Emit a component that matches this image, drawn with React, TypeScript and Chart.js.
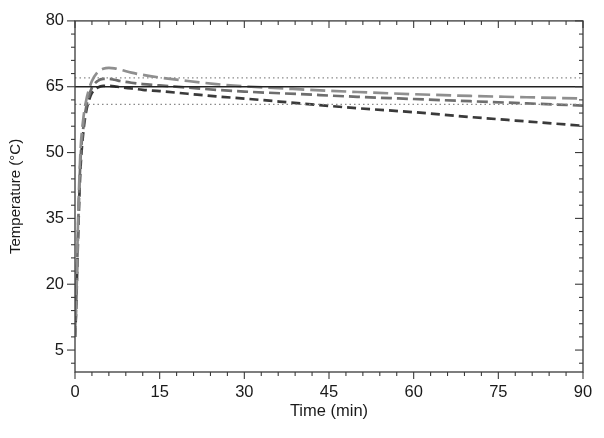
import React, { useEffect, useRef } from "react";
import { Chart, registerables } from "chart.js";

Chart.register(...registerables);

// ---- Data ----
const timeMin = [0, 0.2, 0.4, 0.6, 0.8, 1, 1.5, 2, 2.5, 3, 4, 5, 6, 7, 8, 10, 12, 15, 20, 25, 30, 40, 50, 60, 70, 80, 90];
const seriesLight = [8, 16, 27, 37, 45, 51, 58, 62, 64.5, 66.3, 68.3, 69.1, 69.3, 69.2, 68.9, 68.2, 67.7, 67.1, 66.3, 65.6, 65.1, 64.4, 63.8, 63.3, 62.9, 62.6, 62.3];
const seriesMedium = [8, 15, 25, 35, 43, 49, 56, 60.5, 63, 64.8, 66.3, 66.8, 66.8, 66.6, 66.3, 65.9, 65.6, 65.3, 64.8, 64.3, 63.9, 63.3, 62.7, 62.2, 61.7, 61.2, 60.7];
const seriesDark = [8, 14, 24, 33, 41, 47, 55, 59.5, 62, 63.6, 64.8, 65.2, 65.2, 65.1, 64.9, 64.6, 64.3, 64.0, 63.4, 62.8, 62.3, 61.2, 60.1, 59.2, 58.1, 57.1, 56.1];

const targetTemp = 65;
const upperLimit = 67;
const lowerLimit = 61;

const xRange = [0, 90];
const yRange = [0, 80];
const xTickLabels = [0, 15, 30, 45, 60, 75, 90];
const yTickLabels = [5, 20, 35, 50, 65, 80];
const minorStep = 3;

const toPoints = (ys: number[]) => ys.map((y, i) => ({ x: timeMin[i], y }));
const hLine = (v: number) => [
  { x: xRange[0], y: v },
  { x: xRange[1], y: v },
];

const framePlugin = {
  id: "framePlugin",
  afterDraw(chart: any) {
    const { ctx, chartArea: a, scales } = chart;
    const x = scales.x;
    const y = scales.y;
    ctx.save();
    ctx.strokeStyle = "#3a3a3a";
    ctx.lineWidth = 1.3;
    ctx.strokeRect(a.left, a.top, a.right - a.left, a.bottom - a.top);
    ctx.lineWidth = 1.1;
    const seg = (x1: number, y1: number, x2: number, y2: number) => {
      ctx.beginPath();
      ctx.moveTo(x1, y1);
      ctx.lineTo(x2, y2);
      ctx.stroke();
    };
    // x ticks
    for (let v = xRange[0]; v <= xRange[1] + 1e-9; v += minorStep) {
      const px = x.getPixelForValue(v);
      const major = xTickLabels.includes(v);
      const len = major ? 7 : 4;
      seg(px, a.bottom, px, a.bottom + len);
      seg(px, a.top, px, a.top + len);
    }
    // y ticks
    for (let v = yRange[1]; v >= yRange[0] - 1e-9; v -= minorStep) {
      const py = y.getPixelForValue(v);
      const major = yTickLabels.includes(v);
      const len = major ? 8 : 4;
      seg(a.left - len, py, a.left, py);
      seg(a.right - len, py, a.right, py);
    }
    ctx.restore();
  },
};

export default function App() {
  const canvasRef = useRef<HTMLCanvasElement | null>(null);

  useEffect(() => {
    if (!canvasRef.current) return;
    const fontFamily = "'Liberation Sans', Arial, sans-serif";
    const chart = new Chart(canvasRef.current, {
      type: "line",
      data: {
        datasets: [
          {
            label: "upper",
            data: hLine(upperLimit),
            borderColor: "#8a8a8a",
            borderWidth: 1.2,
            borderDash: [1.5, 3],
            pointRadius: 0,
          },
          {
            label: "lower",
            data: hLine(lowerLimit),
            borderColor: "#8a8a8a",
            borderWidth: 1.2,
            borderDash: [1.5, 3],
            pointRadius: 0,
          },
          {
            label: "target",
            data: hLine(targetTemp),
            borderColor: "#222222",
            borderWidth: 1.5,
            pointRadius: 0,
          },
          {
            label: "light",
            data: toPoints(seriesLight),
            borderColor: "#8f8f8f",
            borderWidth: 2.7,
            borderDash: [15, 6],
            pointRadius: 0,
            cubicInterpolationMode: "monotone",
          },
          {
            label: "medium",
            data: toPoints(seriesMedium),
            borderColor: "#6e6e6e",
            borderWidth: 2.7,
            borderDash: [11, 5],
            pointRadius: 0,
            cubicInterpolationMode: "monotone",
          },
          {
            label: "dark",
            data: toPoints(seriesDark),
            borderColor: "#3a3a3a",
            borderWidth: 2.7,
            borderDash: [9, 5],
            pointRadius: 0,
            cubicInterpolationMode: "monotone",
          },
        ],
      },
      options: {
        animation: false,
        responsive: false,
        devicePixelRatio: 1,
        layout: { padding: { top: 15, right: 21, left: 0, bottom: 0 } },
        plugins: {
          legend: { display: false },
          tooltip: { enabled: false },
        },
        scales: {
          x: {
            type: "linear",
            min: xRange[0],
            max: xRange[1],
            afterBuildTicks: (scale: any) => {
              scale.ticks = xTickLabels.map((v) => ({ value: v }));
            },
            afterFit: (scale: any) => {
              scale.height = 66;
            },
            grid: { display: false, drawTicks: false },
            border: { display: false },
            ticks: {
              padding: 11,
              color: "#1a1a1a",
              maxRotation: 0,
              autoSkip: false,
              font: { family: fontFamily, size: 16.5 },
            },
            title: {
              display: true,
              text: "Time (min)",
              color: "#1a1a1a",
              font: { family: fontFamily, size: 16.5 },
              padding: { top: 0, bottom: 17 },
            },
          },
          y: {
            type: "linear",
            min: yRange[0],
            max: yRange[1],
            afterBuildTicks: (scale: any) => {
              scale.ticks = yTickLabels.map((v) => ({ value: v }));
            },
            afterFit: (scale: any) => {
              scale.width = 75;
            },
            grid: { display: false, drawTicks: false },
            border: { display: false },
            ticks: {
              padding: 11,
              color: "#1a1a1a",
              autoSkip: false,
              font: { family: fontFamily, size: 16.5 },
            },
            title: {
              display: true,
              text: "Temperature (°C)",
              color: "#1a1a1a",
              font: { family: fontFamily, size: 15 },
              padding: { top: 7, bottom: 0 },
            },
          },
        },
      },
      plugins: [framePlugin],
    } as any);
    return () => chart.destroy();
  }, []);

  return (
    <canvas
      ref={canvasRef}
      width={604}
      height={438}
      style={{ position: "absolute", left: 0, top: 0, display: "block", background: "#ffffff" }}
    />
  );
}
